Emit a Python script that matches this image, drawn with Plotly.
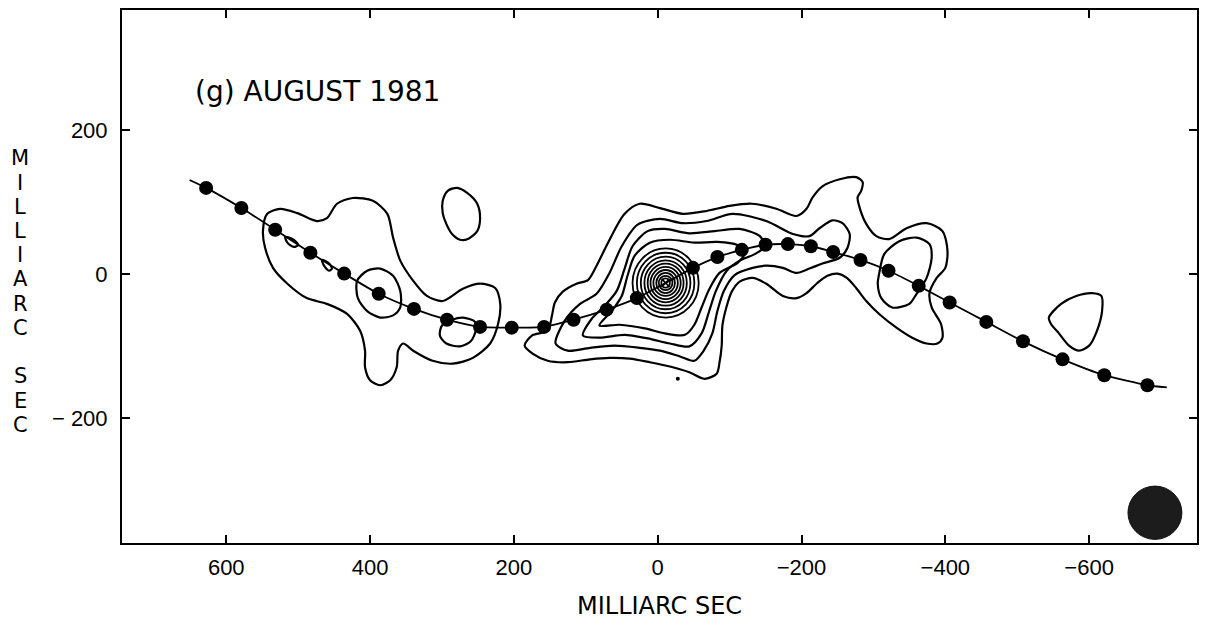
import plotly.graph_objects as go

# ---------------- data (milliarcsec) ----------------
x_tick_vals = [600, 400, 200, 0, -200, -400, -600]
x_tick_text = ["600", "400", "200", "0", "\u2212200", "\u2212400", "\u2212600"]
y_tick_vals = [200, 0, -200]
y_tick_text = ["200", "0", "\u2212 200"]

title_text = "(g) AUGUST 1981"
x_title = "MILLIARC SEC"
y_title = "MILLIARC SEC"

# kinematic-model jet points (filled dots)
jet_dot_x = [628, 579, 532, 483, 436, 388, 339, 293, 247, 203, 158, 117, 71, 29,
             -49, -83, -117, -150, -181, -213, -244, -282, -321, -363, -406, -457,
             -508, -563, -621, -681]
jet_dot_y = [120, 92, 62, 30, 1, -27, -48, -63, -73, -74, -73, -63, -49, -33,
             9, 24, 34, 41, 42, 39, 31, 20, 5, -16, -39, -66,
             -93, -118, -140, -154]
# model curve (passes through the core)
jet_line_x = [651, 628, 579, 532, 483, 436, 388, 339, 293, 247, 203, 158, 117, 71, 29, -11,
              -49, -83, -117, -150, -181, -213, -244, -282, -321, -363, -406, -457,
              -508, -563, -621, -681, -708]
jet_line_y = [131, 120, 92, 62, 30, 1, -27, -48, -63, -73, -74, -73, -63, -49, -33, -12,
              9, 24, 34, 41, 42, 39, 31, 20, 5, -16, -39, -66,
              -93, -118, -140, -154, -157]
core_x, core_y = -11, -12
speck_x, speck_y = -28, -145

# contours (closed loops, data units)
central_1 = [(185, -99), (175, -85), (153, -78), (147, -57), (143, -39), (132, -24), (113, -13),
             (97, -8), (85, 12), (68, 46), (46, 84), (25, 98), (-3, 92), (-35, 84), (-68, 88),
             (-100, 95), (-131, 98), (-165, 91), (-193, 81), (-207, 91), (-215, 106), (-229, 122),
             (-253, 132), (-276, 135), (-285, 128), (-283, 116), (-278, 107), (-281, 92),
             (-290, 70), (-304, 53), (-322, 49), (-346, 64), (-374, 71), (-396, 60), (-403, 33),
             (-400, 9), (-388, -5), (-378, -26), (-381, -46), (-394, -69), (-396, -88),
             (-389, -96), (-374, -96), (-354, -88), (-332, -74), (-308, -55), (-290, -37),
             (-276, -19), (-263, -5), (-250, 1), (-236, -2), (-222, -12), (-207, -26),
             (-193, -33), (-174, -30), (-151, -13), (-132, -5), (-114, -10), (-103, -24),
             (-96, -44), (-90, -71), (-89, -99), (-86, -122), (-82, -138), (-65, -145),
             (-44, -136), (-17, -128), (11, -122), (39, -117), (67, -116), (94, -118),
             (125, -122), (153, -120), (174, -110)]
central_2 = [(142, -96), (129, -64), (108, -41), (85, -27), (67, 2), (50, 39), (28, 69), (-3, 77),
             (-35, 71), (-68, 74), (-104, 84), (-151, 74), (-188, 56), (-211, 53), (-225, 64),
             (-243, 75), (-257, 71), (-267, 56), (-264, 37), (-253, 23), (-229, 15), (-211, 8),
             (-193, 2), (-174, 9), (-151, 12), (-132, 9), (-107, -1), (-92, -23), (-83, -51),
             (-76, -82), (-64, -106), (-51, -120), (-31, -114), (-3, -106), (25, -102),
             (60, -99), (94, -102), (125, -106)]
central_3 = [(104, -85), (92, -62), (74, -44), (57, -23), (46, 8), (35, 39), (14, 60), (-10, 63),
             (-44, 57), (-79, 60), (-114, 63), (-142, 53), (-149, 39), (-135, 28), (-114, 19),
             (-96, 5), (-81, -23), (-71, -53), (-61, -82), (-44, -100), (-17, -96), (14, -89),
             (46, -84), (81, -88)]
central_4 = [(81, -71), (64, -51), (50, -30), (42, -2), (32, 26), (11, 44), (-17, 48), (-51, 44),
             (-83, 45), (-110, 41), (-121, 30), (-111, 16), (-86, 2), (-72, -20), (-61, -46),
             (-51, -70), (-38, -84), (-10, -82), (18, -75), (53, -70)]
# inner concentric rings around the core: half-widths / half-heights
ring_rx = [46, 40, 34.5, 29.5, 25, 21, 17, 13, 9.5, 6]
ring_ry = [48, 42, 36.5, 31.5, 27, 22.5, 18, 14, 10, 6.5]

west_lobe = [(543, 84), (525, 91), (501, 85), (474, 74), (460, 78), (446, 98), (424, 106),
             (396, 102), (376, 84), (368, 51), (358, 19), (340, -9), (321, -30), (299, -37),
             (271, -20), (247, -13), (226, -19), (219, -41), (222, -69), (233, -96),
             (257, -116), (285, -124), (313, -120), (340, -106), (354, -96), (361, -106),
             (363, -129), (372, -147), (386, -154), (400, -147), (407, -129), (407, -106),
             (414, -78), (432, -55), (460, -41), (488, -33), (515, -13), (535, 9), (546, 37),
             (549, 60)]
west_inner = [(418, -9), (404, 5), (386, 8), (368, -2), (358, -23), (358, -46), (368, -57),
              (386, -60), (404, -51), (417, -33)]
west_small = [(300, -71), (286, -63), (271, -60), (254, -66), (253, -78), (260, -93),
              (275, -100), (294, -96), (303, -85)]
west_tiny_1 = [(518, 52), (508, 49), (500, 41), (506, 38), (515, 44)]
west_tiny_2 = [(467, 20), (458, 16), (453, 8), (457, 5), (464, 12)]
north_oval = [(299, 102), (292, 116), (279, 120), (265, 113), (251, 98), (247, 78), (251, 60),
              (264, 49), (275, 48), (286, 56), (294, 70), (299, 85)]
east_inner = [(-308, 1), (-315, 28), (-336, 46), (-360, 51), (-378, 42), (-381, 23), (-374, -5),
              (-360, -27), (-350, -41), (-326, -46), (-311, -33), (-306, -13)]
east_far = [(-544, -60), (-561, -41), (-582, -30), (-604, -26), (-617, -30), (-618, -51),
            (-611, -78), (-600, -99), (-586, -106), (-572, -99), (-558, -82), (-547, -69)]

contours = [central_1, central_2, central_3, central_4, west_lobe, west_inner, west_small,
            west_tiny_1, west_tiny_2, north_oval, east_inner, east_far]

# restoring beam (bottom right)
beam_x = [-654, -729]
beam_y = [-294, -368]

# ---------------- figure ----------------
FONT = "Liberation Sans"
TFONT = "DejaVu Sans"
fig = go.Figure()

for c in contours:
    xs = [p[0] for p in c] + [c[0][0]]
    ys = [p[1] for p in c] + [c[0][1]]
    fig.add_trace(go.Scatter(x=xs, y=ys, mode="lines",
                             line=dict(color="black", width=2.2, shape="spline", smoothing=0.8),
                             hoverinfo="skip", showlegend=False))

fig.add_trace(go.Scatter(x=jet_line_x, y=jet_line_y, mode="lines",
                         line=dict(color="black", width=1.8, shape="spline", smoothing=0.6),
                         hoverinfo="skip", showlegend=False))
fig.add_trace(go.Scatter(x=jet_dot_x, y=jet_dot_y, mode="markers",
                         marker=dict(color="black", size=14, line=dict(width=0)),
                         showlegend=False))
fig.add_trace(go.Scatter(x=[core_x], y=[core_y], mode="markers",
                         marker=dict(symbol="x-thin-open", size=8, color="black",
                                     line=dict(color="black", width=1.8)),
                         showlegend=False))
fig.add_trace(go.Scatter(x=[speck_x], y=[speck_y], mode="markers",
                         marker=dict(color="black", size=4), showlegend=False))

for rx, ry in zip(ring_rx, ring_ry):
    fig.add_shape(type="circle", xref="x", yref="y",
                  x0=core_x - rx, x1=core_x + rx, y0=core_y - ry, y1=core_y + ry,
                  line=dict(color="black", width=1.8))

fig.add_shape(type="circle", xref="x", yref="y", x0=beam_x[0], x1=beam_x[1],
              y0=beam_y[0], y1=beam_y[1], line=dict(color="#111", width=1), fillcolor="#1c1c1c")

fig.add_annotation(text=title_text, xref="x", yref="y", x=646, y=254, xanchor="left",
                   yanchor="middle", showarrow=False, font=dict(family=TFONT, size=28, color="black"))
fig.add_annotation(text=x_title, xref="paper", yref="paper", x=0.5, y=0, yshift=-63,
                   xanchor="center", yanchor="middle", showarrow=False,
                   font=dict(family=TFONT, size=24, color="black"))

# vertical stacked y-axis label
plot_top, plot_h = 8, 535
yy = 157
for ch in y_title:
    if ch != " ":
        fig.add_annotation(text=ch, xref="paper", yref="paper", x=0, xshift=-102,
                           y=(plot_top + plot_h - yy) / plot_h, xanchor="center", yanchor="middle",
                           showarrow=False, font=dict(family=TFONT, size=21, color="black"))
    yy += 24.3

axis_common = dict(showgrid=False, zeroline=False, showline=True, mirror="ticks",
                   linecolor="black", linewidth=2, ticks="inside", ticklen=8, tickwidth=1.8,
                   tickcolor="black", tickfont=dict(family=FONT, size=22, color="black"))
fig.update_xaxes(range=[745, -750], tickvals=x_tick_vals, ticktext=x_tick_text,
                 ticklabelstandoff=4, **axis_common)
fig.update_yaxes(range=[-373, 367], tickvals=y_tick_vals, ticktext=y_tick_text,
                 ticklabelstandoff=8, **axis_common)

fig.update_layout(width=1210, height=627, margin=dict(l=122, r=13, t=8, b=84),
                  paper_bgcolor="white", plot_bgcolor="white", showlegend=False,
                  font=dict(family=FONT, color="black"))

fig.write_html("out.html")
